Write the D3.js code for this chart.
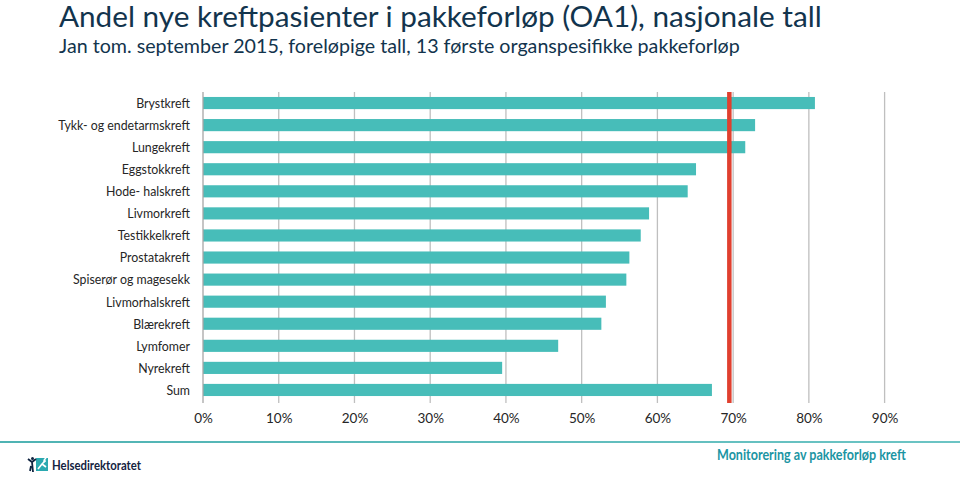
<!DOCTYPE html>
<html><head><meta charset="utf-8">
<script src="https://cdn.jsdelivr.net/npm/d3@7"></script>
<style>
html,body{margin:0;padding:0;background:#fff;}
svg{display:block;}
text{font-family:Lato,"Open Sans",sans-serif;}
</style></head>
<body>
<svg id="c" width="960" height="477"></svg>
<script>
const categories = ["Brystkreft","Tykk- og endetarmskreft","Lungekreft","Eggstokkreft","Hode- halskreft","Livmorkreft","Testikkelkreft","Prostatakreft","Spiserør og magesekk","Livmorhalskreft","Blærekreft","Lymfomer","Nyrekreft","Sum"];
const values = [0.808,0.729,0.716,0.651,0.640,0.589,0.578,0.563,0.559,0.532,0.526,0.469,0.395,0.672];
const tickValues = [0,0.1,0.2,0.3,0.4,0.5,0.6,0.7,0.8,0.9];
const targetValue = 0.695;
const titleText = "Andel nye kreftpasienter i pakkeforløp (OA1), nasjonale tall";
const subtitleText = "Jan tom. september 2015, foreløpige tall, 13 første organspesifikke pakkeforløp";

const svg = d3.select("#c");
function squeeze(sel, w, ax){ // horizontally scale text to width w, anchored at ax
  const cur = sel.node().getComputedTextLength();
  const k = w/cur;
  sel.attr("transform",`translate(${ax},0) scale(${k},1) translate(${-ax},0)`);
}

// Title
const t1 = svg.append("text").attr("x",59).attr("y",27).attr("font-size",28).attr("fill","#12344d").text(titleText);
squeeze(t1, 763, 59);
const t2 = svg.append("text").attr("x",59).attr("y",53).attr("font-size",20).attr("fill","#12344d").text(subtitleText);
squeeze(t2, 681, 59);

const x = d3.scaleLinear().domain([0,0.9]).range([203,884.6]);
const y = d3.scaleBand().domain(categories).range([92,401]).paddingInner(0.45).paddingOuter(0.225);

// gridlines
svg.append("g").selectAll("line").data(tickValues.slice(1)).join("line")
  .attr("x1",d=>x(d)).attr("x2",d=>x(d)).attr("y1",92).attr("y2",403)
  .attr("stroke","#bfbfbf").attr("stroke-width",1.3);

// bars
svg.append("g").selectAll("rect").data(categories).join("rect")
  .attr("x",x(0)).attr("y",d=>y(d)).attr("height",y.bandwidth())
  .attr("width",(d,i)=>x(values[i])-x(0)).attr("fill","#47bdb9");

// axis line
svg.append("line").attr("x1",x(0)).attr("x2",x(0)).attr("y1",92).attr("y2",403)
  .attr("stroke","#a6a6a6").attr("stroke-width",1.3);

// target line
svg.append("line").attr("x1",x(targetValue)).attr("x2",x(targetValue)).attr("y1",92).attr("y2",403)
  .attr("stroke","#e0402f").attr("stroke-width",4.5);

// category labels
const lg0 = svg.append("g");
const labs = lg0.selectAll("text").data(categories).join("text")
  .attr("x",190).attr("y",d=>y(d)+y.bandwidth()/2).attr("dy","0.36em")
  .attr("text-anchor","end").attr("font-size",13.5).attr("fill","#262626").text(d=>d);
const lw = labs.filter(d=>d==="Tykk- og endetarmskreft").node().getComputedTextLength();
lg0.attr("transform",`translate(190,0) scale(${132/lw},1) translate(-190,0)`);

// tick labels
const xAxis = d3.axisBottom(x).tickValues(tickValues).tickFormat(d3.format(".0%")).tickSize(0).tickPadding(0);
const ax = svg.append("g").attr("transform","translate(0,413)").call(xAxis);
ax.select(".domain").remove();
ax.selectAll("text").attr("font-size",13.5).attr("fill","#262626").attr("font-family","Lato,'Open Sans',sans-serif");

// footer line
const grad = svg.append("defs").append("linearGradient").attr("id","fl");
grad.append("stop").attr("offset","0").attr("stop-color","#4fb3b3");
grad.append("stop").attr("offset","1").attr("stop-color","#6cc4c4");
svg.append("rect").attr("x",0).attr("y",441).attr("width",960).attr("height",2).attr("fill","url(#fl)");

// logo
const lg = svg.append("g");
lg.append("rect").attr("x",36).attr("y",458).attr("width",12).attr("height",13).attr("fill","#2aa9b0");
lg.append("path").attr("d","M38,469 L42,464 L45,461 M42,464 L46,467 M44,460 L46,458").attr("stroke","#fff").attr("stroke-width",1.6).attr("fill","none");
lg.append("circle").attr("cx",44.5).attr("cy",461).attr("r",1.3).attr("fill","#fff");
lg.append("path").attr("d","M28,459 L32,462 L36,459 M32,462 L33,472 M31,466 L30,471").attr("stroke","#0f2340").attr("stroke-width",1.8).attr("fill","none");
lg.append("circle").attr("cx",32.5).attr("cy",458.5).attr("r",1.5).attr("fill","#0f2340");
const ht = lg.append("text").attr("x",52).attr("y",470).attr("font-size",12.5).attr("font-weight","bold").attr("fill","#14233f").text("Helsedirektoratet");
squeeze(ht, 89, 52);

const mt = svg.append("text").attr("x",717).attr("y",460).attr("font-size",14.5).attr("font-weight","bold").attr("fill","#1b95a3").text("Monitorering av pakkeforløp kreft");
squeeze(mt, 189, 717);
</script>
</body></html>
